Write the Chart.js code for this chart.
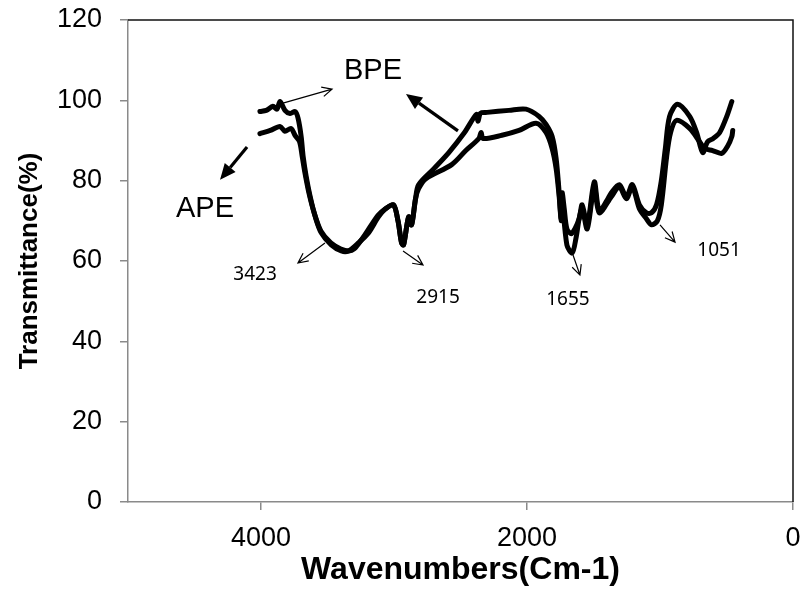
<!DOCTYPE html>
<html>
<head>
<meta charset="utf-8">
<script src="https://cdn.jsdelivr.net/npm/chart.js@4.4.0/dist/chart.umd.min.js"></script>
<style>
  html, body { margin: 0; padding: 0; background: #fff; }
  #wrap { width: 803px; height: 589px; }
</style>
</head>
<body>
<div id="wrap"><canvas id="ftir" width="803" height="589"></canvas></div>
<script>
// FTIR spectra, wavenumber (cm-1) against transmittance (%)
const bpeWave = [4008, 3960, 3910, 3880, 3857, 3820, 3781, 3743, 3721, 3698,
  3683, 3660, 3630, 3592, 3547, 3472, 3396, 3343, 3268, 3192,
  3117, 3064, 3004, 2970, 2943, 2928, 2890, 2868, 2838, 2815,
  2700, 2588, 2470, 2380, 2368, 2350, 2300, 2136, 2008, 1909,
  1857, 1811, 1781, 1758, 1743, 1736, 1720, 1700, 1668, 1640,
  1608, 1585, 1547, 1494, 1457, 1400, 1366, 1306, 1253, 1208,
  1155, 1102, 1064, 1026, 990, 960, 928, 868, 777, 725,
  679, 642, 600, 551, 498, 460];
const bpeT = [97.2, 97.5, 98.5, 97.8, 99.7, 97.5, 96.7, 97.2, 95.5, 91,
  86, 81, 76, 71, 67, 64, 62.5, 62.5, 64.5, 67,
  71, 73, 74, 70, 64.5, 64, 71, 69, 75.5, 79,
  83, 87, 92, 96.5, 94.8, 96.8, 97, 97.5, 97.8, 96,
  94, 91, 85.5, 77, 70.5, 77, 73, 68, 66.8, 68,
  70.5, 74, 69, 79.7, 72.5, 75, 77, 79, 76, 79,
  74, 72, 72, 74, 80, 88, 96, 99, 96, 92,
  87, 89.7, 90.5, 92, 96, 99.7];

const apeWave = [4008, 3930, 3857, 3820, 3774, 3743, 3710, 3690, 3670, 3640,
  3600, 3550, 3475, 3400, 3340, 3300, 3240, 3170, 3117, 3064,
  3004, 2970, 2943, 2928, 2890, 2868, 2838, 2815, 2760, 2566,
  2460, 2362, 2345, 2330, 2189, 2060, 1932, 1857, 1811, 1781,
  1758, 1743, 1736, 1700, 1660, 1630, 1608, 1585, 1547, 1494,
  1457, 1366, 1306, 1253, 1208, 1155, 1102, 1064, 1020, 990,
  950, 920, 876, 777, 702, 664, 604, 536, 490, 460,
  453];
const apeT = [91.7, 92.5, 93.5, 92.3, 93, 91.2, 89.7, 86, 82, 77,
  72, 67.5, 64.5, 63, 62.5, 63, 65.5, 69, 71.5, 73,
  74, 70, 64.5, 64, 71, 69, 75.5, 78, 80.5, 84,
  87.5, 90.5, 92, 90.5, 91.3, 92.5, 94.3, 92, 88, 83,
  76, 70, 75, 64, 62, 66, 70.5, 73, 68, 78.5,
  72, 76, 78.5, 75.5, 78.5, 73, 70.5, 69, 70, 74,
  86, 92, 95, 93, 89.7, 88, 87.5, 86.8, 88.7, 91,
  92.5];

const xTickValues = [4000, 2000, 0];

// arrows and notes, placed in data units
const arrows = [
  { from: [3835, 99.3], to: [3466, 102.8], bold: false },
  { from: [2519, 92.4], to: [2910, 101.6], bold: true },
  { from: [4105, 88.4], to: [4308, 80.2], bold: true },
  { from: [3519, 64.5], to: [3722, 59.5], bold: false },
  { from: [2932, 62.5], to: [2782, 59.0], bold: false },
  { from: [1654, 61.5], to: [1602, 56.5], bold: false },
  { from: [1000, 69.0], to: [887, 64.7], bold: false }
];
const notes = [
  { text: 'BPE', at: [3158, 107.3], big: true },
  { text: 'APE', at: [4421, 72.9], big: true },
  { text: '3423', at: [4045, 56.5], big: false },
  { text: '2915', at: [2669, 50.8], big: false },
  { text: '1655', at: [1692, 50.3], big: false },
  { text: '1051', at: [556, 62.5], big: false }
];

const toPoints = (xs, ys) => xs.map((v, i) => ({ x: v, y: ys[i] }));

function drawArrow(ctx, x1, y1, x2, y2, bold) {
  const ang = Math.atan2(y2 - y1, x2 - x1);
  ctx.strokeStyle = '#000';
  ctx.fillStyle = '#000';
  if (bold) {
    const len = 16, half = 7;
    const bx = x2 - len * Math.cos(ang), by = y2 - len * Math.sin(ang);
    ctx.lineWidth = 3.2;
    ctx.beginPath();
    ctx.moveTo(x1, y1);
    ctx.lineTo(bx, by);
    ctx.stroke();
    ctx.beginPath();
    ctx.moveTo(x2, y2);
    ctx.lineTo(bx + half * Math.sin(ang), by - half * Math.cos(ang));
    ctx.lineTo(bx - half * Math.sin(ang), by + half * Math.cos(ang));
    ctx.closePath();
    ctx.fill();
  } else {
    const len = 11, spread = 0.45;
    ctx.lineWidth = 1.2;
    ctx.beginPath();
    ctx.moveTo(x1, y1);
    ctx.lineTo(x2, y2);
    ctx.moveTo(x2 - len * Math.cos(ang - spread), y2 - len * Math.sin(ang - spread));
    ctx.lineTo(x2, y2);
    ctx.lineTo(x2 - len * Math.cos(ang + spread), y2 - len * Math.sin(ang + spread));
    ctx.stroke();
  }
}

const calloutPlugin = {
  id: 'callouts',
  afterDraw(chart) {
    const { ctx, chartArea: area, scales: { x, y } } = chart;
    ctx.save();
    // plot area frame on top and right
    ctx.strokeStyle = '#111';
    ctx.lineWidth = 1.5;
    ctx.beginPath();
    ctx.moveTo(area.left, area.top);
    ctx.lineTo(area.right, area.top);
    ctx.lineTo(area.right, area.bottom);
    ctx.stroke();

    arrows.forEach(a => {
      drawArrow(ctx,
        x.getPixelForValue(a.from[0]), y.getPixelForValue(a.from[1]),
        x.getPixelForValue(a.to[0]), y.getPixelForValue(a.to[1]), a.bold);
    });

    ctx.fillStyle = '#000';
    ctx.textAlign = 'center';
    ctx.textBaseline = 'middle';
    notes.forEach(n => {
      ctx.font = n.big ? '29px "Liberation Sans", Arial, sans-serif'
                       : '19px "Noto Sans", "Open Sans", sans-serif';
      ctx.fillText(n.text, x.getPixelForValue(n.at[0]), y.getPixelForValue(n.at[1]));
    });
    ctx.restore();
  }
};

Chart.defaults.font.family = '"Liberation Sans", Arial, sans-serif';
Chart.defaults.color = '#000';

new Chart(document.getElementById('ftir'), {
  type: 'line',
  data: {
    datasets: [
      { label: 'BPE', data: toPoints(bpeWave, bpeT) },
      { label: 'APE', data: toPoints(apeWave, apeT) }
    ]
  },
  options: {
    responsive: false,
    animation: false,
    layout: { padding: { top: 20, right: 10, bottom: 0, left: 0 } },
    elements: {
      line: { borderColor: '#000', borderWidth: 5, tension: 0.3, fill: false,
              borderCapStyle: 'round', borderJoinStyle: 'round' },
      point: { radius: 0, hoverRadius: 0 }
    },
    plugins: {
      legend: { display: false },
      tooltip: { enabled: false }
    },
    scales: {
      x: {
        type: 'linear',
        reverse: true,
        min: 0,
        max: 5000,
        afterBuildTicks: s => { s.ticks = xTickValues.map(v => ({ value: v })); },
        afterFit: s => { s.height = 87; s.paddingLeft = 0; s.paddingRight = 0; },
        ticks: { font: { size: 27 }, padding: 12, maxRotation: 0, color: '#000',
                 callback: v => String(v) },
        grid: { drawOnChartArea: false, tickLength: 8, color: '#8a8a8a', lineWidth: 1.5 },
        border: { color: '#8a8a8a', width: 1.5 },
        title: {
          display: true,
          text: 'Wavenumbers(Cm-1)',
          font: { size: 32, weight: 'bold' },
          padding: { top: 0, bottom: 0 }
        }
      },
      y: {
        min: 0,
        max: 120,
        afterFit: s => { s.width = 128; s.paddingTop = 0; s.paddingBottom = 0; },
        ticks: { stepSize: 20, font: { size: 27 }, padding: 18, color: '#000',
                 callback: v => String(v) },
        grid: { drawOnChartArea: false, tickLength: 8, color: '#8a8a8a', lineWidth: 1.5 },
        border: { color: '#8a8a8a', width: 1.5 },
        title: {
          display: true,
          text: 'Transmittance(%)',
          font: { size: 26, weight: 'bold' },
          padding: { top: 14, bottom: 0 }
        }
      }
    }
  },
  plugins: [calloutPlugin]
});
</script>
</body>
</html>
